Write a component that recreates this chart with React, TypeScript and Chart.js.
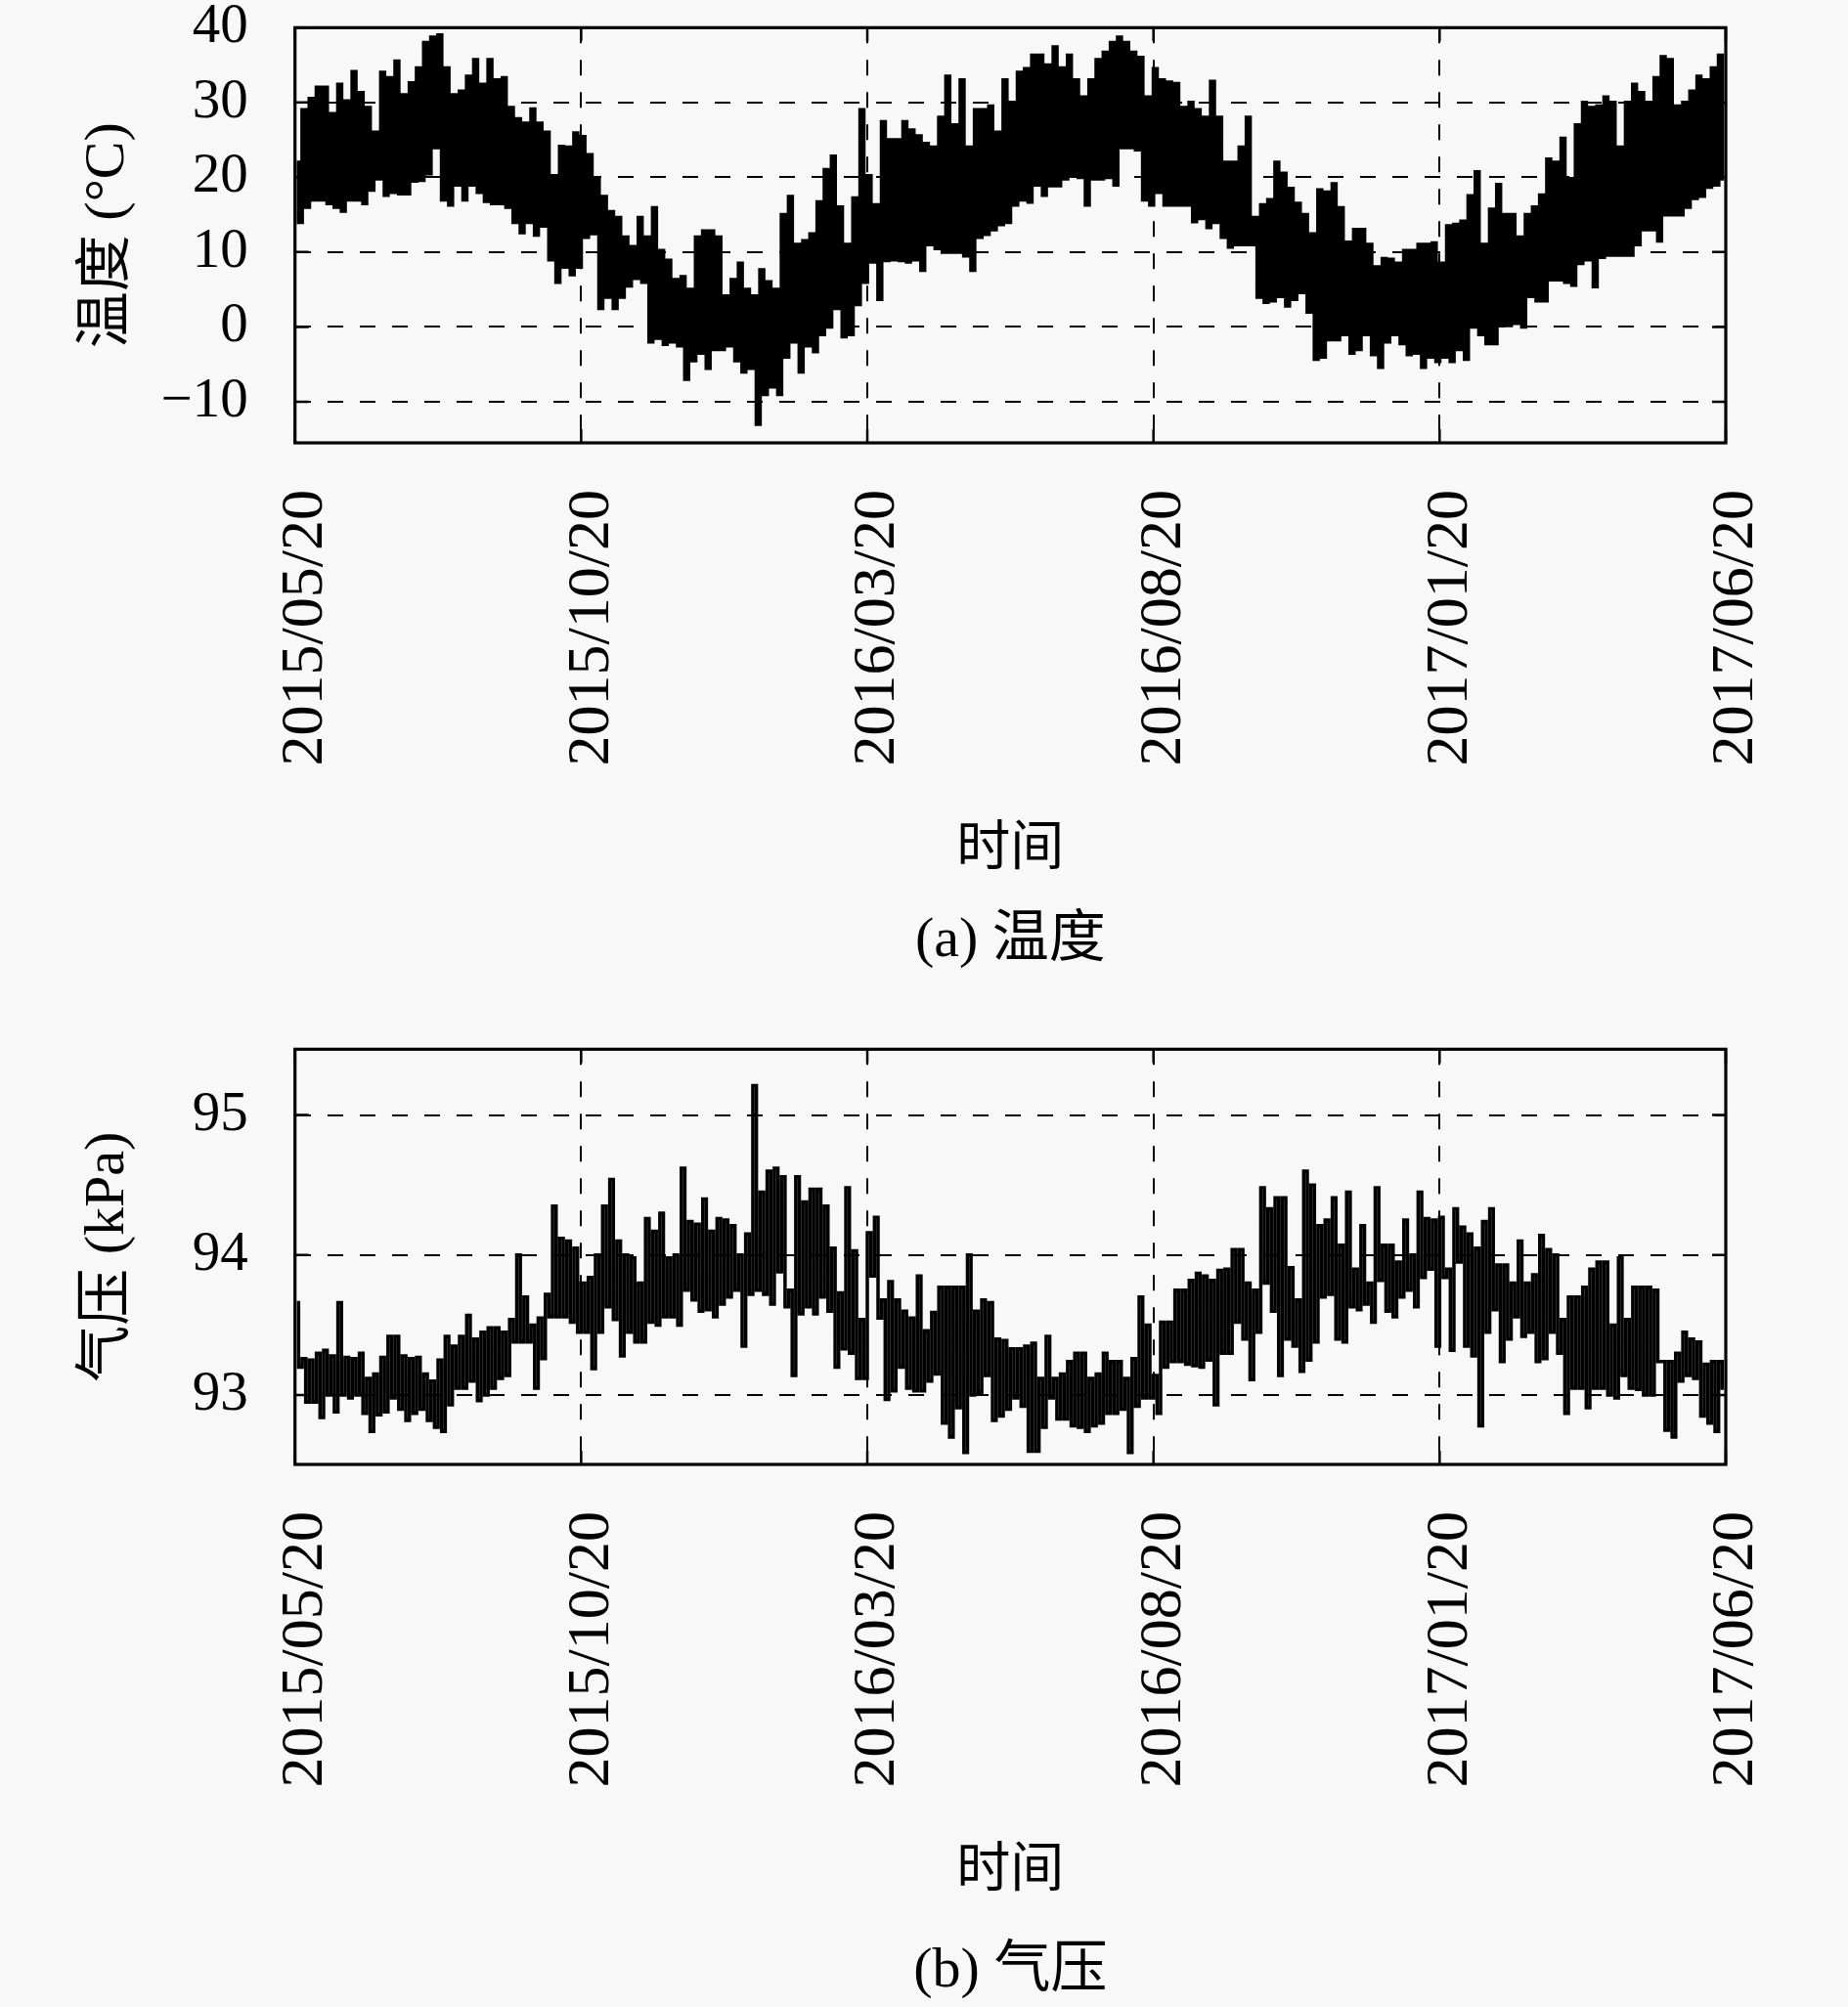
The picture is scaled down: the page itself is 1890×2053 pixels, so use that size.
import React, { useEffect, useRef } from 'react';
import { Chart, registerables } from 'chart.js';

Chart.register(...registerables);

// x axis: months since 2015/05/20, one tick every 5 months
const monthTicks = [0, 5, 10, 15, 20, 25];
const dateLabels = ['2015/05/20', '2015/10/20', '2016/03/20', '2016/08/20', '2017/01/20', '2017/06/20'];
const tempTicks = [-10, 0, 10, 20, 30, 40];
const pressTicks = [93, 94, 95];

// each bin is 1/8 month; high / low envelope
const BIN = 0.125;

const tempHigh = [
  22, 29, 30.5, 32, 32, 28.5, 32.4, 30.2, 34.1, 31.3,
  29.3, 26, 34, 33.3, 35.5, 31, 32.6, 34.6, 38, 38.7,
  39, 34.6, 31, 31.5, 33.5, 35.7, 32.4, 35.7, 33, 33.3,
  29.3, 27.8, 27.2, 29.1, 27.2, 26, 20.2, 24.1, 24, 25.9,
  25.4, 23, 19.8, 17.4, 15.4, 14.6, 12, 10.7, 14.6, 12,
  15.9, 10.2, 8.9, 6.3, 6.7, 5, 12, 12.8, 12.8, 12,
  4.1, 6.3, 8.5, 5, 4.1, 7.6, 6, 5, 15, 17.4,
  11, 11.5, 12.4, 16.7, 21, 22.8, 16, 11, 17.2, 29,
  20.2, 16.3, 27.4, 25, 25, 27.4, 26.3, 25.5, 24.5, 24,
  28, 33.5, 27, 33, 24, 29, 29, 29.5, 26, 33,
  30, 34, 34.5, 36.3, 36.3, 35, 37.4, 34.6, 36.3, 33,
  30.7, 33, 35.7, 36.7, 38, 38.7, 38, 36.7, 36, 30.7,
  34.5, 33, 32.7, 32.5, 29.3, 30, 29, 28, 32.8, 28,
  22, 22, 24, 28, 14.6, 16.3, 17, 22, 20.5, 18.5,
  16.5, 15, 12.4, 18.3, 18, 19.1, 15.9, 11.3, 13, 13,
  11, 8, 9.1, 9, 8.5, 10.2, 10.2, 11, 11, 11.2,
  8.5, 13.5, 13.7, 14.1, 17.5, 20.7, 11, 15.7, 19, 15,
  15, 12, 15, 16, 17.6, 22.4, 22, 25.2, 19.8, 27,
  30, 29.3, 29.5, 30.7, 30, 24, 30, 32.4, 31.3, 30,
  33.3, 36.1, 35.7, 29.5, 30, 31.5, 33.5, 33, 34.6, 36.3,
];

const tempLow = [
  14, 16, 17, 17, 16.5, 16, 15.5, 17, 17, 16.5,
  18.3, 19.8, 17.6, 18, 17.8, 17.8, 19.5, 19.6, 20.5, 24,
  17, 16.3, 19, 17, 19, 18, 16.8, 16.5, 16.5, 16,
  14, 12.6, 14, 12.3, 13.5, 9, 6, 8, 7, 8,
  12, 12.5, 2.5, 4, 2.5, 4, 5.5, 6.5, 6, -2,
  -1.5, -2.3, -2, -2.5, -7, -4.5, -3.5, -5.5, -3, -3,
  -2.5, -4.5, -6, -5.5, -13, -9, -8, -9, -4, -2,
  -6, -2.5, -3.3, -1, 0, 2.5, -1.3, -1, 3, 6,
  8.7, 3.7, 8.9, 9, 8.9, 8.7, 9, 7.6, 11, 10.5,
  10, 10, 10, 9.5, 7.6, 12, 12.4, 13, 13.7, 14,
  16.3, 17, 16.7, 19, 17.6, 18.9, 18.9, 19.8, 20.2, 20,
  16.3, 19.8, 19.8, 20, 19, 24, 24, 23.7, 17, 16.3,
  18, 16.3, 16.3, 16.3, 16.3, 14.1, 14.5, 13.3, 14, 12,
  10.7, 11, 11, 11, 4, 3.3, 3.5, 4.1, 2.8, 3.7,
  4.6, 2, -4.3, -4, -1.7, -1.7, -1, -3.5, -3, -1,
  -3.7, -5.4, -2, -1, -2.2, -3.7, -3.5, -5.4, -4, -4.6,
  -4, -4.6, -3, -4.3, 0, -1, -2.2, -2.2, 0.2, 0.2,
  0.5, 0, 4.1, 3.5, 3.5, 6.3, 6.3, 6, 5.6, 8.5,
  9, 5.4, 9.3, 9.6, 9.6, 9.6, 9.6, 11, 13, 13,
  11.5, 15, 15, 15, 16, 17.2, 17.5, 18.7, 19, 19.8,
];

const pressHigh = [
  93.66, 93.26, 93.25, 93.3, 93.32, 93.28, 93.66, 93.27, 93.26, 93.3,
  93.12, 93.15, 93.27, 93.42, 93.42, 93.28, 93.26, 93.27, 93.15, 93.1,
  93.25, 93.42, 93.35, 93.42, 93.57, 93.4, 93.45, 93.48, 93.48, 93.45,
  93.54, 94.0, 93.7, 93.5, 93.55, 93.72, 94.35, 94.12, 94.1, 94.05,
  93.8, 93.84, 94.0, 94.35, 94.54, 94.1, 94.0, 93.98, 93.8, 94.26,
  94.17, 94.3, 93.98, 94.0, 94.62, 94.24, 94.22, 94.4, 94.17, 94.26,
  94.25, 94.21, 94.0, 94.15, 95.21, 94.45, 94.6, 94.62, 94.56, 93.75,
  94.56, 94.38, 94.47, 94.47, 94.35, 94.05, 93.73, 94.48, 94.03, 93.54,
  94.16, 94.27, 93.68, 93.81, 93.68, 93.6, 93.55, 93.85, 93.46, 93.59,
  93.77, 93.77, 93.77, 93.77, 94.0, 93.6, 93.68, 93.66, 93.4, 93.39,
  93.33, 93.33, 93.35, 93.37, 93.12, 93.42, 93.12, 93.15, 93.24, 93.3,
  93.3, 93.12, 93.15, 93.3, 93.24, 93.24, 93.12, 93.26, 93.7, 93.5,
  93.14, 93.52, 93.52, 93.75, 93.75, 93.82, 93.87, 93.85, 93.82, 93.89,
  93.9, 94.04, 94.04, 93.8, 93.75, 94.48, 94.33, 94.41, 94.41, 93.91,
  93.68, 94.6, 94.5, 94.21, 94.25, 94.41, 94.07, 94.45, 93.9, 94.21,
  93.8, 94.48, 94.07, 94.07, 93.95, 94.25, 94.0, 94.45, 94.26, 94.25,
  94.27, 93.9, 94.33, 94.2, 94.15, 94.05, 94.24, 94.33, 93.93, 93.93,
  93.8, 94.1, 93.8, 93.86, 94.14, 94.04, 94.0, 93.54, 93.7, 93.7,
  93.77, 93.9, 93.95, 93.95, 93.5, 93.98, 93.54, 93.77, 93.77, 93.77,
  93.75, 93.24, 93.24, 93.3, 93.45, 93.4, 93.38, 93.22, 93.24, 93.24,
];

const pressLow = [
  93.2, 92.95, 92.95, 92.84, 93.0, 92.88, 93.0, 92.98, 93.0, 92.87,
  92.74, 92.86, 92.88, 92.98, 92.9, 92.82, 92.87, 92.9, 92.82, 92.77,
  92.74, 92.93, 93.05, 93.05, 93.1, 92.96, 93.0, 93.05, 93.12, 93.14,
  93.38, 93.38, 93.38, 93.05, 93.26, 93.56, 93.56, 93.56, 93.52, 93.45,
  93.45, 93.19, 93.45, 93.63, 93.54, 93.28, 93.45, 93.38, 93.38, 93.52,
  93.5, 93.56, 93.56, 93.5, 93.75, 93.68, 93.6, 93.61, 93.56, 93.65,
  93.7, 93.75, 93.35, 93.72, 93.75, 93.72, 93.65, 93.88, 93.63, 93.14,
  93.58, 93.63, 93.58, 93.7, 93.6, 93.2, 93.33, 93.3, 93.12, 93.12,
  93.85, 93.55, 92.97, 93.03, 93.2, 93.05, 93.03, 93.03, 93.1, 93.15,
  92.8, 92.7, 92.91, 92.59, 93.0, 93.02, 93.14, 92.82, 92.85, 92.9,
  92.98, 92.92, 92.6, 92.6, 92.77, 92.98, 92.83, 92.83, 92.78, 92.77,
  92.74, 92.78, 92.8, 92.87, 92.87, 92.9, 92.59, 92.92, 92.98, 92.98,
  92.87, 93.2, 93.24, 93.24, 93.22, 93.21, 93.2, 93.25, 92.93, 93.3,
  93.3, 93.52, 93.4, 93.11, 93.45, 93.8, 93.6, 93.14, 93.4, 93.35,
  93.17, 93.25, 93.38, 93.7, 93.72, 93.4, 93.38, 93.63, 93.61, 93.65,
  93.52, 93.82, 93.6, 93.56, 93.7, 93.75, 93.63, 93.84, 93.9, 93.35,
  93.84, 93.32, 93.95, 93.35, 93.28, 92.78, 93.45, 93.61, 93.24, 93.4,
  93.56, 93.42, 93.45, 93.24, 93.26, 93.45, 93.3, 92.87, 93.05, 93.05,
  92.91, 93.05, 93.05, 93.0, 92.98, 93.14, 93.05, 93.04, 93.0, 93.0,
  93.24, 92.75, 92.7, 93.1, 93.14, 93.12, 92.85, 92.8, 92.74, 93.05,
];

const SERIF = '"Liberation Serif", "Noto Sans CJK SC", serif';
const PANEL_OFFSET = 1045;

// one high and one low per bin; drawn as stepped strokes
const envelopePoints = (high: number[], low: number[]) =>
  high.flatMap((h, i) => [
    { x: (i + 0.25) * BIN, y: h },
    { x: (i + 0.75) * BIN, y: low[i] },
  ]);

// solid frame + short inward ticks, like the original
const framePlugin = {
  id: 'frame',
  afterDatasetsDraw(chart: any) {
    const { ctx, chartArea: a, scales } = chart;
    const t = 14;
    ctx.save();
    ctx.setLineDash([]);
    ctx.strokeStyle = '#000';
    ctx.lineWidth = 2.5;
    ctx.beginPath();
    scales.x.ticks.forEach((tk: any) => {
      const px = scales.x.getPixelForValue(tk.value);
      ctx.moveTo(px, a.bottom);
      ctx.lineTo(px, a.bottom - t);
      ctx.moveTo(px, a.top);
      ctx.lineTo(px, a.top + t);
    });
    scales.y.ticks.forEach((tk: any) => {
      const py = scales.y.getPixelForValue(tk.value);
      ctx.moveTo(a.left, py);
      ctx.lineTo(a.left + t, py);
      ctx.moveTo(a.right, py);
      ctx.lineTo(a.right - t, py);
    });
    ctx.stroke();
    ctx.lineWidth = 3.2;
    ctx.strokeRect(a.left, a.top, a.right - a.left, a.bottom - a.top);
    ctx.restore();
  },
};

interface PanelProps {
  high: number[];
  low: number[];
  yMin: number;
  yMax: number;
  yTicks: number[];
  yTitle: string;
  lineWidth: number;
  top: number;
}

const Panel: React.FC<PanelProps> = ({ high, low, yMin, yMax, yTicks, yTitle, lineWidth, top }) => {
  const canvasRef = useRef<HTMLCanvasElement | null>(null);

  useEffect(() => {
    const ctx = canvasRef.current?.getContext('2d');
    if (!ctx) return;

    const chart = new Chart(ctx, {
      type: 'line',
      data: {
        datasets: [
          {
            data: envelopePoints(high, low),
            borderColor: '#000',
            borderWidth: lineWidth,
            pointRadius: 0,
            stepped: 'middle',
            fill: false,
          },
        ],
      },
      options: {
        responsive: false,
        animation: false,
        layout: { padding: { left: 0, top: 28.3, right: 125, bottom: 0 } },
        plugins: { legend: { display: false }, tooltip: { enabled: false } },
        scales: {
          x: {
            type: 'linear',
            min: 0,
            max: 25,
            afterBuildTicks: (s: any) => {
              s.ticks = monthTicks.map((v) => ({ value: v }));
            },
            afterFit: (s: any) => {
              s.height = 547;
              s.paddingLeft = 0;
              s.paddingRight = 0;
            },
            grid: { color: '#000', lineWidth: 2, drawTicks: false },
            border: { display: false, dash: [16, 17] },
            ticks: {
              autoSkip: false,
              maxRotation: 90,
              minRotation: 90,
              padding: 48,
              labelOffset: 11,
              color: '#000',
              font: { family: SERIF, size: 62 },
              callback: (v: any) => dateLabels[monthTicks.indexOf(Number(v))],
            },
            title: {
              display: true,
              text: '时间',
              color: '#000',
              font: { family: SERIF, size: 55 },
              padding: { top: 0, bottom: 97 },
            },
          },
          y: {
            min: yMin,
            max: yMax,
            afterBuildTicks: (s: any) => {
              s.ticks = yTicks.map((v) => ({ value: v }));
            },
            afterFit: (s: any) => {
              s.width = 301.7;
              s.paddingTop = 0;
              s.paddingBottom = 0;
            },
            grid: { color: '#000', lineWidth: 2, drawTicks: false },
            border: { display: false, dash: [16, 17] },
            ticks: {
              padding: 48,
              color: '#000',
              font: { family: SERIF, size: 57 },
              callback: (v: any) => String(v).replace('-', '\u2212'),
            },
            title: {
              display: true,
              text: yTitle,
              color: '#000',
              font: { family: SERIF, size: 58 },
              padding: { top: 76, bottom: 0 },
            },
          },
        },
      },
      plugins: [framePlugin],
    });

    return () => {
      chart.destroy();
    };
  }, [high, low, yMin, yMax, yTicks, yTitle, lineWidth]);

  return (
    <canvas
      ref={canvasRef}
      width={1890}
      height={1000}
      style={{ position: 'absolute', left: 0, top, width: 1890, height: 1000 }}
    />
  );
};

const captionStyle = (top: number): React.CSSProperties => ({
  position: 'absolute',
  left: 301.7,
  width: 1463.3,
  top,
  textAlign: 'center',
  fontFamily: SERIF,
  fontSize: 58,
  lineHeight: '66px',
  color: '#000',
});

export default function App() {
  return (
    <div
      style={{
        position: 'absolute',
        left: 0,
        top: 0,
        width: 1890,
        height: 2053,
        background: '#f8f8f8',
        overflow: 'hidden',
      }}
    >
      <Panel high={tempHigh} low={tempLow} yMin={-15.5} yMax={40} yTicks={tempTicks} yTitle="温度 (°C)" lineWidth={3.8} top={0} />
      <Panel high={pressHigh} low={pressLow} yMin={92.505} yMax={95.47} yTicks={pressTicks} yTitle="气压 (kPa)" lineWidth={3.5} top={PANEL_OFFSET} />
      <div style={captionStyle(926)}>(a) 温度</div>
      <div style={captionStyle(935 + PANEL_OFFSET)}>(b) 气压</div>
    </div>
  );
}
